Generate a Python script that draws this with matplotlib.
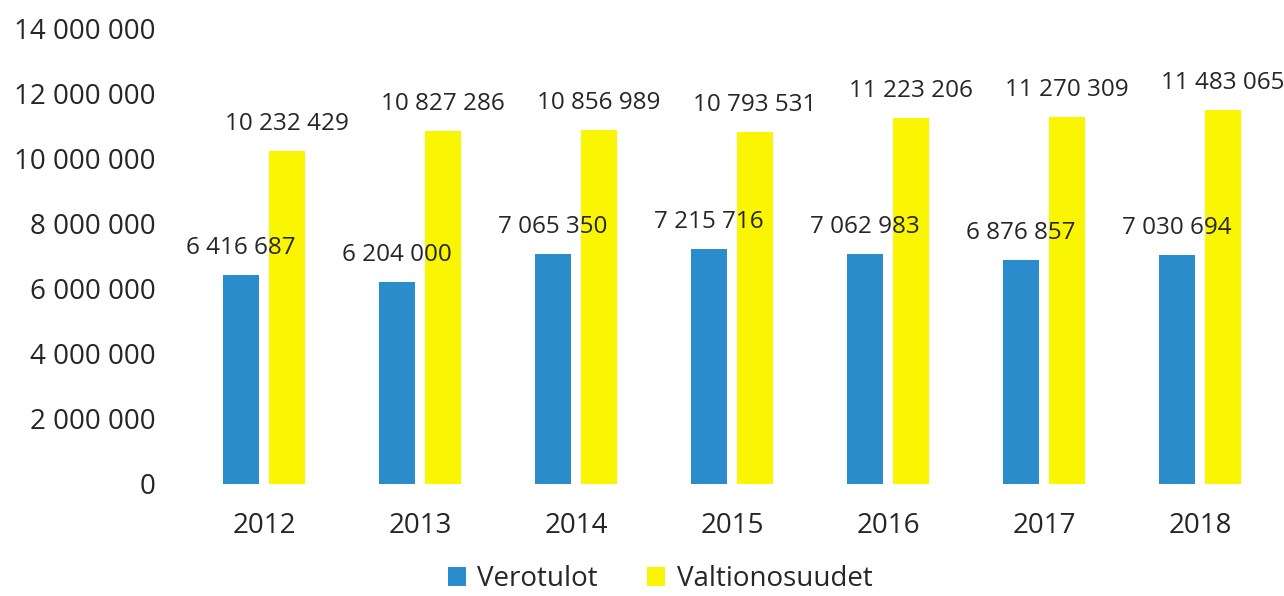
import matplotlib.pyplot as plt
import numpy as np
from matplotlib.ticker import FuncFormatter

# data
years = ['2012', '2013', '2014', '2015', '2016', '2017', '2018']
verotulot = [6416687, 6204000, 7065350, 7215716, 7062983, 6876857, 7030694]
valtionosuudet = [10232429, 10827286, 10856989, 10793531, 11223206, 11270309, 11483065]
yticks = [0, 2000000, 4000000, 6000000, 8000000, 10000000, 12000000, 14000000]

blue = '#2B8CCB'
yellow = '#FAF500'
txt = '#262626'

plt.rcParams['font.family'] = ['Open Sans', 'DejaVu Sans']


def fmt(v, pos=None):
    return '{:,}'.format(int(v)).replace(',', ' ')


fig = plt.figure(figsize=(12.84, 5.96), dpi=100)
ax = fig.add_axes([186 / 1284, 1 - 484 / 596, (1278 - 186) / 1284, (484 - 28) / 596])

x = np.arange(len(years))
w = 36 / 156
gap = 10 / 156
b1 = ax.bar(x - (w + gap) / 2, verotulot, w, color=blue, label='Verotulot')
b2 = ax.bar(x + (w + gap) / 2, valtionosuudet, w, color=yellow, label='Valtionosuudet')

for bars in (b1, b2):
    for r in bars:
        ax.annotate(fmt(r.get_height()), (r.get_x() + r.get_width() / 2, r.get_height()),
                    xytext=(0, 15), textcoords='offset pixels', ha='center', va='bottom',
                    fontsize=17.5, color=txt)

ax.set_xlim(-0.5, len(years) - 0.5)
ax.set_ylim(0, 14000000)
ax.set_yticks(yticks)
ax.yaxis.set_major_formatter(FuncFormatter(fmt))
ax.set_xticks(x)
ax.set_xticklabels(years)
ax.tick_params(length=0, labelsize=20, colors=txt)
ax.tick_params(axis='y', pad=22)
ax.tick_params(axis='x', pad=20)
for s in ax.spines.values():
    s.set_visible(False)

leg = fig.legend(loc='center', bbox_to_anchor=(660 / 1284, 1 - 579 / 596), ncol=2,
                 frameon=False, fontsize=20, handlelength=0.65, handleheight=0.65,
                 handletextpad=0.4, columnspacing=1.8)
for t in leg.get_texts():
    t.set_color(txt)

fig.savefig('out.png', dpi=100, facecolor='white')
